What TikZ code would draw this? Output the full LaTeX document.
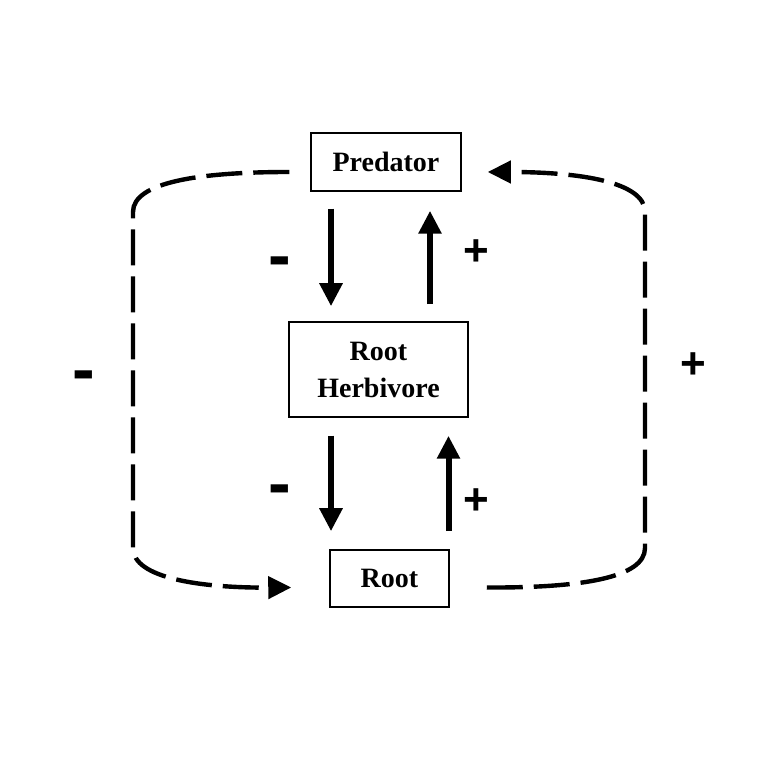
\documentclass[tikz,border=0pt]{standalone}
\usepackage{fontspec}
\setmainfont{Liberation Serif}
\newfontfamily\signfont{Liberation Sans}
\usetikzlibrary{arrows.meta}
\tikzset{
    box/.style={draw,line width=0.75pt,inner sep=0pt,align=center,font=\bfseries\fontsize{14}{18.5}\selectfont},
    solidarrow/.style={line width=3pt,-{Triangle[length=11.5pt,width=11pt]}},
    dashedarrow/.style={line width=2.2pt,dash pattern=on 18pt off 5.5pt,-{Triangle[length=11.5pt,width=11pt]}},
    minuslabel/.style={inner sep=0pt,anchor=base,font=\signfont\bfseries\fontsize{34}{34}\selectfont},
    pluslabel/.style={inner sep=0pt,font=\signfont\bfseries\fontsize{22}{22}\selectfont},
}
\begin{document}
\begin{tikzpicture}[x=0.5pt,y=0.5pt]
              \useasboundingbox (0,0) rectangle (760,760);
              \node[box,minimum width=75pt,minimum height=29pt] (Predator) at (386,598) {Predator};
              \node[box,minimum width=89.5pt,minimum height=47.5pt] (Herbivore) at (378.5,390.5) {Root\\Herbivore};
              \node[box,minimum width=59.5pt,minimum height=28.5pt] (Root) at (389.5,181.5) {Root};
              \draw[solidarrow,shorten <=8.5pt,shorten >=7.5pt] ([xshift=-27.5pt]Predator.south) -- ([xshift=-27.5pt]Predator.south |- Herbivore.north);
              \draw[solidarrow,shorten <=8.5pt,shorten >=9.5pt] ([xshift=22pt]Predator.south |- Herbivore.north) -- ([xshift=22pt]Predator.south);
              \draw[solidarrow,shorten <=9pt,shorten >=9pt] ([xshift=-23.75pt]Herbivore.south) -- ([xshift=-23.75pt]Herbivore.south |- Root.north);
              \draw[solidarrow,shorten <=9pt,shorten >=9pt] ([xshift=29.5pt]Root.north) -- ([xshift=29.5pt]Root.north |- Herbivore.south);
              \draw[dashedarrow] ([xshift=-10.5pt,yshift=-5pt]Predator.west) .. controls (200,588) and (133,578) .. (133,548) -- (133,212) .. controls (133,182) and (200,172) .. ([xshift=-19pt,yshift=-4.5pt]Root.west);
              \draw[dashedarrow] ([xshift=18.5pt,yshift=-4.5pt]Root.east) .. controls (580,172) and (645,182) .. (645,212) -- (645,548) .. controls (645,578) and (580,588) .. ([xshift=13pt,yshift=-5pt]Predator.east);
              \foreach \n/\x/\y in {predminus/280/481,loopminus/84/367,herbminus/280/253} {
                  \node[minuslabel] (\n) at (\x,\y) {-};
              }
              \foreach \n/\x/\y in {predplus/476/507,loopplus/693/394,rootplus/476/258} {
                  \node[pluslabel] (\n) at (\x,\y) {+};
              }
        \end{tikzpicture}
\end{document}
